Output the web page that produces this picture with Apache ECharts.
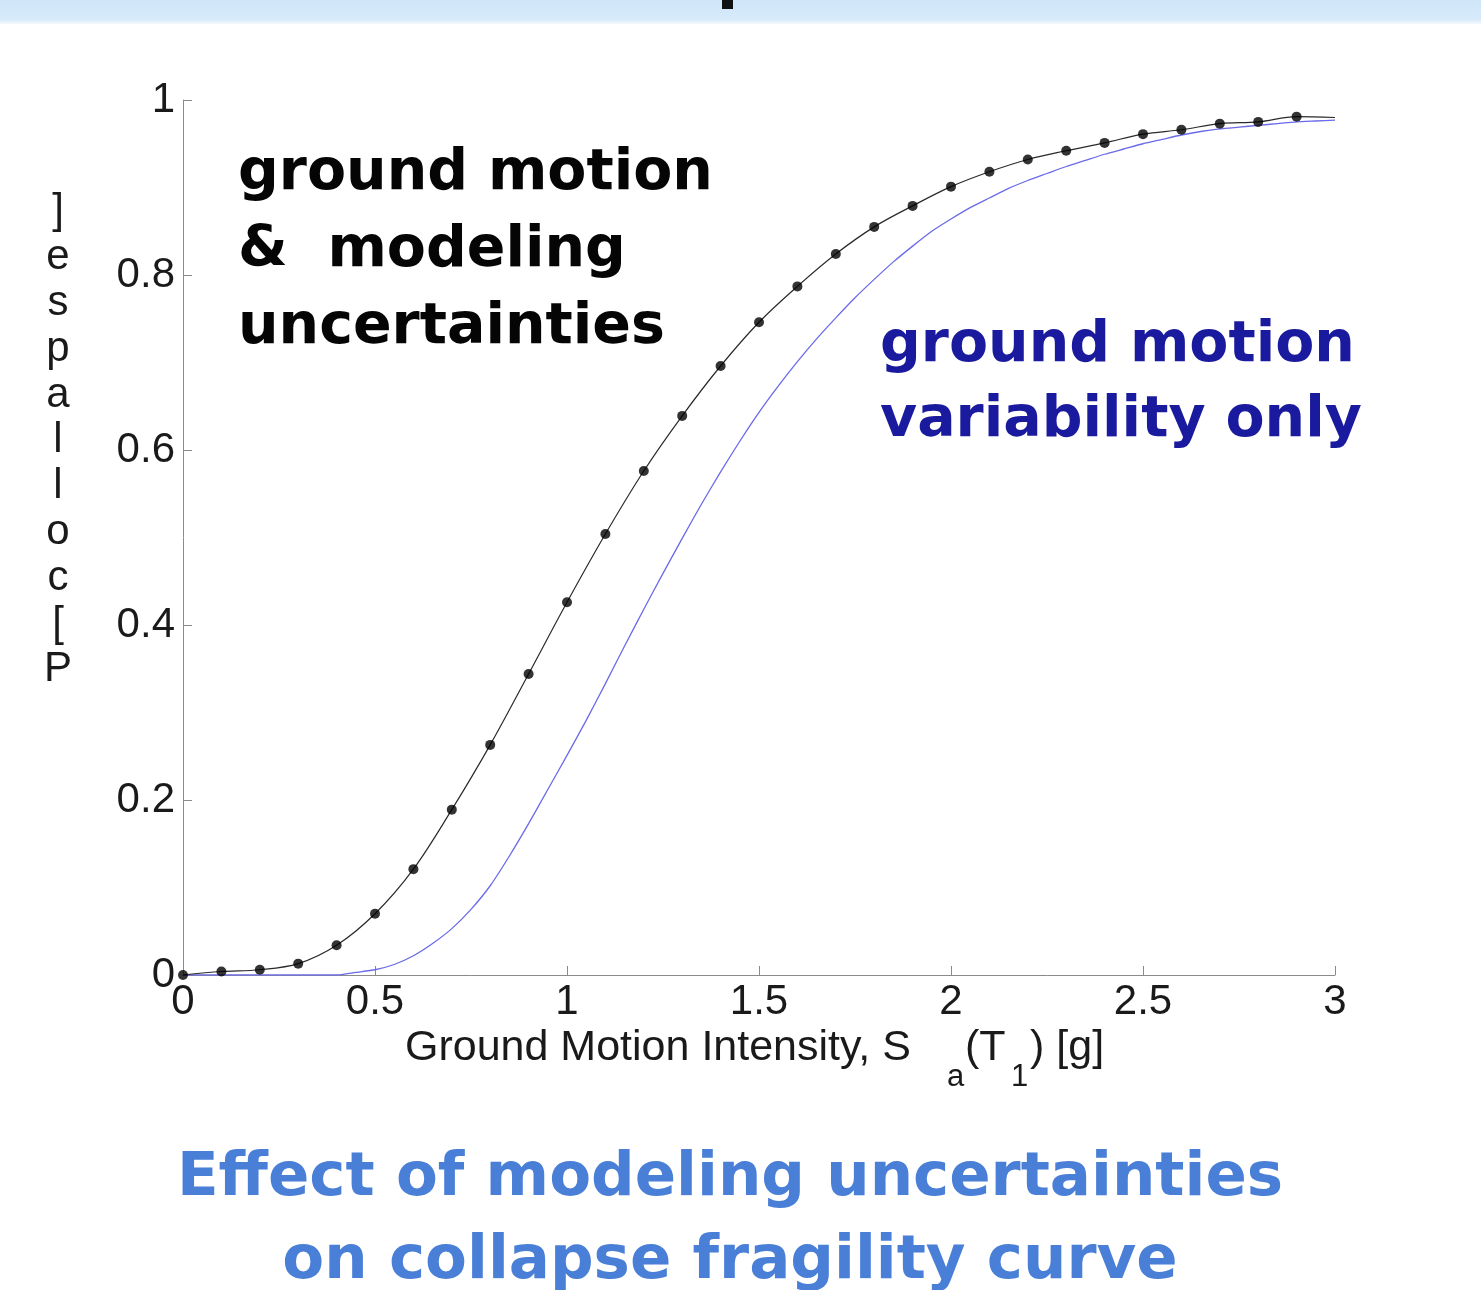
<!DOCTYPE html>
<html>
<head>
<meta charset="utf-8">
<script src="https://cdn.jsdelivr.net/npm/echarts@6/dist/echarts.min.js"></script>
<style>
html,body{margin:0;padding:0;background:#fff;}
#chart{width:1481px;height:1290px;}
</style>
</head>
<body>
<div id="chart"></div>
<script>
// ---- data ----
const xTicks = [0, 0.5, 1, 1.5, 2, 2.5, 3];
const yTicks = [0, 0.2, 0.4, 0.6, 0.8, 1];

// ground motion & modeling uncertainties (black dots + fitted curve)
const dotX = [0, 0.1, 0.2, 0.3, 0.4, 0.5, 0.6, 0.7, 0.8, 0.9, 1.0, 1.1, 1.2, 1.3, 1.4, 1.5, 1.6, 1.7, 1.8, 1.9, 2.0, 2.1, 2.2, 2.3, 2.4, 2.5, 2.6, 2.7, 2.8, 2.9];
const dotP = [0, 0.004, 0.006, 0.013, 0.034, 0.070, 0.121, 0.189, 0.263, 0.344, 0.426, 0.504, 0.576, 0.639, 0.696, 0.746, 0.787, 0.824, 0.855, 0.879, 0.901, 0.918, 0.932, 0.942, 0.951, 0.961, 0.966, 0.973, 0.975, 0.981];
const curveEndX = [3.0];
const curveEndP = [0.980];

// ground motion variability only (blue curve)
const blueX = [0, 0.05, 0.1, 0.15, 0.2, 0.25, 0.3, 0.35, 0.4, 0.45, 0.5, 0.55, 0.6, 0.65, 0.7, 0.75, 0.8, 0.85, 0.9, 0.95,
  1.0, 1.05, 1.1, 1.15, 1.2, 1.25, 1.3, 1.35, 1.4, 1.45, 1.5, 1.55, 1.6, 1.65, 1.7, 1.75, 1.8, 1.85, 1.9, 1.95,
  2.0, 2.05, 2.1, 2.15, 2.2, 2.25, 2.3, 2.35, 2.4, 2.45, 2.5, 2.55, 2.6, 2.65, 2.7, 2.75, 2.8, 2.85, 2.9, 2.95, 3.0];
const blueP = [0, 0, 0, 0, 0, 0, 0, 0, 0, 0.003, 0.006, 0.012, 0.022, 0.036, 0.053, 0.075, 0.102, 0.136, 0.173, 0.212,
  0.251, 0.291, 0.333, 0.376, 0.418, 0.459, 0.499, 0.538, 0.575, 0.610, 0.643, 0.673, 0.701, 0.727, 0.751, 0.774, 0.795, 0.815, 0.833, 0.850,
  0.864, 0.877, 0.888, 0.899, 0.908, 0.916, 0.924, 0.931, 0.938, 0.944, 0.950, 0.955, 0.960, 0.964, 0.967, 0.969, 0.971, 0.973, 0.975, 0.976, 0.977];

// ---- build series data ----
const dots = dotX.map((x, i) => [x, dotP[i]]);
const blackCurve = dots.concat(curveEndX.map((x, i) => [x, curveEndP[i]]));
const blueCurve = blueX.map((x, i) => [x, blueP[i]]);

const chart = echarts.init(document.getElementById('chart'), null, {renderer: 'canvas'});
const tickFont = '"Liberation Sans", Arial, Helvetica, sans-serif';
const boldFont = '"DejaVu Sans", Verdana, sans-serif';

chart.setOption({
  backgroundColor: '#ffffff',
  animation: false,
  grid: {left: 183, right: 146, top: 100, bottom: 315, containLabel: false},
  xAxis: {
    type: 'value', min: 0, max: 3, interval: 0.5,
    axisLine: {lineStyle: {color: '#8a8a8a', width: 1}},
    axisTick: {inside: true, length: 9, lineStyle: {color: '#8a8a8a'}},
    axisLabel: {fontFamily: tickFont, fontSize: 42, color: '#1a1a1a', margin: 6,
      formatter: v => xTicks.indexOf(v) >= 0 ? String(v) : ''},
    splitLine: {show: false}
  },
  yAxis: {
    type: 'value', min: 0, max: 1, interval: 0.2,
    axisLine: {show: true, lineStyle: {color: '#8a8a8a', width: 1}},
    axisTick: {show: true, inside: true, length: 9, lineStyle: {color: '#8a8a8a'}},
    axisLabel: {fontFamily: tickFont, fontSize: 42, color: '#1a1a1a', margin: 8,
      formatter: v => { const t = yTicks.find(y => Math.abs(y - v) < 1e-9); return t === undefined ? '' : String(t); }},
    splitLine: {show: false}
  },
  series: [
    {
      name: 'ground motion variability only', type: 'line', data: blueCurve,
      showSymbol: false, symbol: 'none', smooth: 0.2,
      lineStyle: {color: '#6a6aea', width: 1.3}, z: 2
    },
    {
      name: 'ground motion & modeling uncertainties (fit)', type: 'line', data: blackCurve,
      showSymbol: false, symbol: 'none', smooth: 0.35,
      lineStyle: {color: '#2a2a2a', width: 1.2}, z: 3
    },
    {
      name: 'ground motion & modeling uncertainties', type: 'scatter', data: dots,
      symbol: 'circle', symbolSize: 10,
      itemStyle: {color: '#000000'}, z: 4
    }
  ],
  graphic: [
    // top band of the slide
    {type: 'rect', left: 0, top: 0, z: -1, shape: {width: 1481, height: 24},
      style: {fill: new echarts.graphic.LinearGradient(0, 0, 0, 1, [
        {offset: 0, color: '#cfe6f9'}, {offset: 0.8, color: '#d6eafa'}, {offset: 1, color: '#f4f9fe'}])}},
    {type: 'rect', left: 722, top: 0, z: 0, shape: {width: 11, height: 9}, style: {fill: '#111111'}},

    // y axis name (stacked letters)
    {type: 'text', x: 58, y: 189, z: 10,
      style: {text: ']\ne\ns\np\na\nl\nl\no\nc\n[\nP', font: '42px ' + tickFont, fill: '#1a1a1a',
        lineHeight: 45.8, align: 'center', verticalAlign: 'top'}},

    // x axis name with subscripts
    {type: 'text', left: 405, top: 1027, z: 10,
      style: {text: 'Ground Motion Intensity, S', font: '43px ' + tickFont, fill: '#1a1a1a'}},
    {type: 'text', left: 947, top: 1062, z: 10,
      style: {text: 'a', font: '31px ' + tickFont, fill: '#1a1a1a'}},
    {type: 'text', left: 965, top: 1027, z: 10,
      style: {text: '(T', font: '43px ' + tickFont, fill: '#1a1a1a'}},
    {type: 'text', left: 1011, top: 1062, z: 10,
      style: {text: '1', font: '31px ' + tickFont, fill: '#1a1a1a'}},
    {type: 'text', left: 1030, top: 1027, z: 10,
      style: {text: ') [g]', font: '43px ' + tickFont, fill: '#1a1a1a'}},

    // annotations
    {type: 'text', left: 238, top: 136, z: 10,
      style: {text: 'ground motion\n&  modeling\nuncertainties', font: 'bold 57px ' + boldFont,
        fill: '#050505', lineHeight: 77}},
    {type: 'text', left: 880, top: 309, z: 10,
      style: {text: 'ground motion\nvariability only', font: 'bold 57px ' + boldFont,
        fill: '#1a1a9e', lineHeight: 75}},

    // slide caption
    {type: 'text', x: 730, y: 1138, z: 10,
      style: {text: 'Effect of modeling uncertainties\non collapse fragility curve', font: 'bold 61px ' + boldFont,
        fill: '#4a7fd8', lineHeight: 83, align: 'center', verticalAlign: 'top'}}
  ]
});
</script>
</body>
</html>
